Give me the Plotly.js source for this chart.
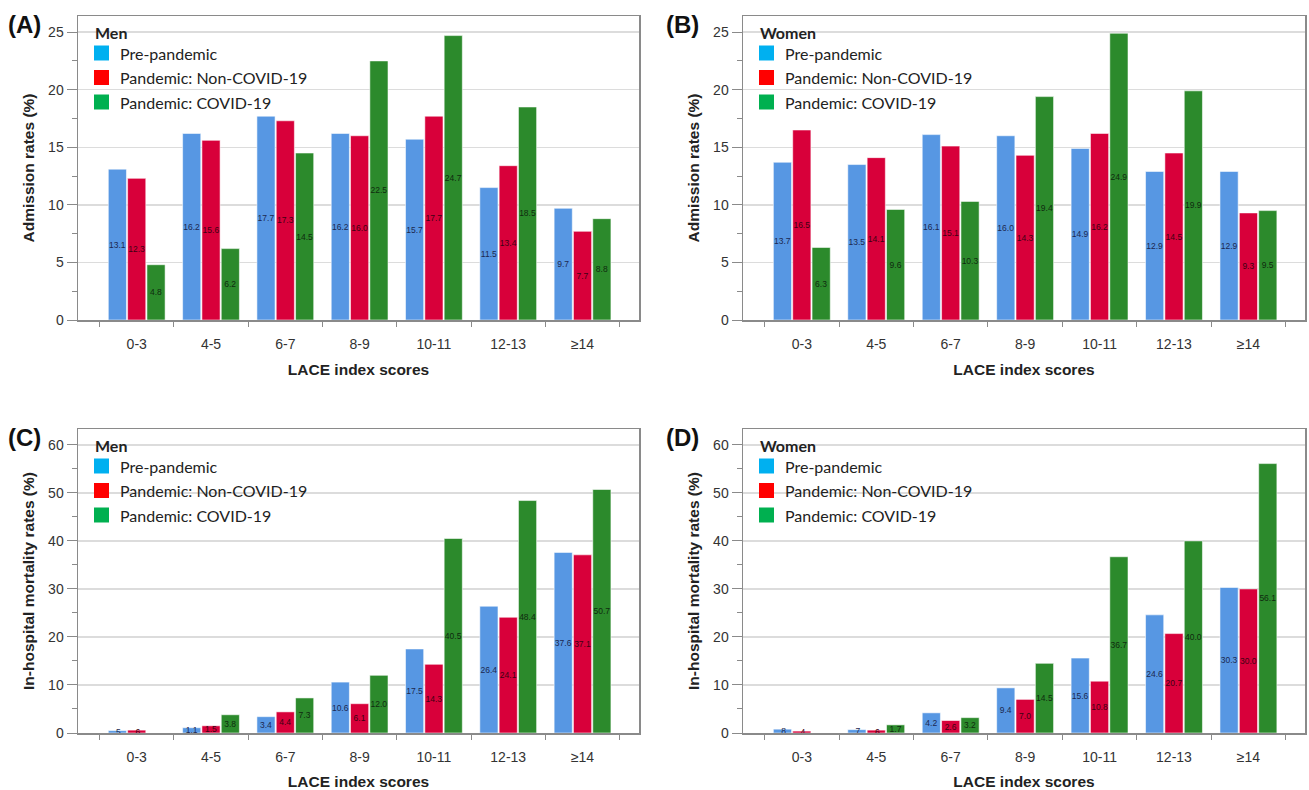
<!DOCTYPE html>
<html>
<head>
<meta charset="utf-8">
<script src="https://cdn.plot.ly/plotly-3.0.1.min.js"></script>
<style>
html,body{margin:0;padding:0;background:#fff;}
#chart{width:1309px;height:790px;}
</style>
</head>
<body>
<div id="chart"></div>
<script>
// ---- data ----
const categories = ['0-3', '4-5', '6-7', '8-9', '10-11', '12-13', '≥14'];
const seriesNames = ['Pre-pandemic', 'Pandemic: Non-COVID-19', 'Pandemic: COVID-19'];

// (A) Men – admission rates (%)
const menAdmPre   = [13.1, 16.2, 17.7, 16.2, 15.7, 11.5, 9.7];
const menAdmNon   = [12.3, 15.6, 17.3, 16.0, 17.7, 13.4, 7.7];
const menAdmCovid = [4.8, 6.2, 14.5, 22.5, 24.7, 18.5, 8.8];

// (B) Women – admission rates (%)
const womenAdmPre   = [13.7, 13.5, 16.1, 16.0, 14.9, 12.9, 12.9];
const womenAdmNon   = [16.5, 14.1, 15.1, 14.3, 16.2, 14.5, 9.3];
const womenAdmCovid = [6.3, 9.6, 10.3, 19.4, 24.9, 19.9, 9.5];

// (C) Men – in-hospital mortality rates (%)
const menMortPre   = [0.5, 1.1, 3.4, 10.6, 17.5, 26.4, 37.6];
const menMortNon   = [0.6, 1.5, 4.4, 6.1, 14.3, 24.1, 37.1];
const menMortCovid = [0.0, 3.8, 7.3, 12.0, 40.5, 48.4, 50.7];

// (D) Women – in-hospital mortality rates (%)
const womenMortPre   = [0.8, 0.7, 4.2, 9.4, 15.6, 24.6, 30.3];
const womenMortNon   = [0.4, 0.6, 2.6, 7.0, 10.8, 20.7, 30.0];
const womenMortCovid = [0.0, 1.7, 3.2, 14.5, 36.7, 40.0, 56.1];

// ---- styling ----
const barColors = ['#5797E3', '#D8003A', '#2C8A2C'];
const barTextColors = ['#1c2850', '#3d0012', '#0f2a0f'];
const legendColors = ['#00B0F0', '#FF0000', '#00B050'];

function fmt(v) {
  const s = v.toFixed(1);
  return v < 1 ? s.replace(/^0/, '') : s;
}

const panels = [
  {sfx: '',  group: 'Men',   series: [menAdmPre, menAdmNon, menAdmCovid], letter: '(A)'},
  {sfx: '2', group: 'Women', series: [womenAdmPre, womenAdmNon, womenAdmCovid], letter: '(B)'},
  {sfx: '3', group: 'Men',   series: [menMortPre, menMortNon, menMortCovid], letter: '(C)'},
  {sfx: '4', group: 'Women', series: [womenMortPre, womenMortNon, womenMortCovid], letter: '(D)'}
];

const traces = [];
panels.forEach(p => {
  p.series.forEach((vals, i) => {
    traces.push({
      type: 'bar',
      x: categories,
      y: vals,
      name: seriesNames[i],
      xaxis: 'x' + p.sfx,
      yaxis: 'y' + p.sfx,
      showlegend: false,
      marker: {color: barColors[i], line: {color: 'rgba(255,255,255,0.55)', width: 1}},
      text: vals.map(fmt),
      textposition: 'inside',
      insidetextanchor: 'middle',
      textangle: 0,
      constraintext: 'none',
      cliponaxis: false,
      textfont: {family: 'Liberation Sans Narrow, Liberation Sans, Arial', size: 8.5, color: barTextColors[i]},
      hoverinfo: 'x+y+name'
    });
  });
});

const W = 1309, H = 790;
const xDomA = [78 / W, 639 / W];
const xDomB = [743 / W, 1305 / W];
const yDomTop = [1 - 320 / H, 1 - 16 / H];
const yDomBot = [1 - 733 / H, 1 - 429 / H];

const tickFont = {family: 'Liberation Sans, Arial', size: 14, color: '#333'};
const titleFont = {family: 'Liberation Sans, Arial', size: 15.5, color: '#222', weight: 'bold'};

function xAxis(domain, anchor) {
  return {
    domain: domain, anchor: anchor, type: 'category',
    range: [-0.79, 6.76],
    showline: true, linecolor: '#8a8a8a', linewidth: 1.5, mirror: true,
    ticks: 'outside', tickson: 'boundaries', ticklen: 5, tickcolor: '#8a8a8a',
    tickfont: tickFont, ticklabelstandoff: 11,
    showgrid: false, zeroline: false, automargin: false,
    title: {text: '<b>LACE index scores</b>', font: titleFont, standoff: 13}
  };
}
function yAxis(domain, anchor, range, dtick, minorDtick, title) {
  return {
    domain: domain, anchor: anchor, range: range,
    tickmode: 'linear', tick0: 0, dtick: dtick,
    showline: true, linecolor: '#8a8a8a', linewidth: 1.5, mirror: true,
    ticks: 'outside', ticklen: 10, tickcolor: '#8a8a8a', tickwidth: 1,
    minor: {dtick: minorDtick, ticks: 'outside', ticklen: 5, tickcolor: '#8a8a8a', showgrid: false},
    tickfont: tickFont,
    showgrid: true, gridcolor: '#dcdcdc', gridwidth: 1.5,
    zeroline: false, automargin: false,
    title: {text: '<b>' + title + '</b>', font: titleFont, standoff: 9}
  };
}

const layout = {
  width: W, height: H,
  margin: {l: 0, r: 0, t: 0, b: 0},
  paper_bgcolor: '#fff', plot_bgcolor: '#fff',
  barmode: 'group', bargap: 0.22, bargroupgap: 0.06,
  uniformtext: {mode: 'show', minsize: 8.5},
  showlegend: false,
  xaxis:  xAxis(xDomA, 'y'),
  xaxis2: xAxis(xDomB, 'y2'),
  xaxis3: xAxis(xDomA, 'y3'),
  xaxis4: xAxis(xDomB, 'y4'),
  yaxis:  yAxis(yDomTop, 'x',  [0, 26.4], 5, 2.5, 'Admission rates (%)'),
  yaxis2: yAxis(yDomTop, 'x2', [0, 26.4], 5, 2.5, 'Admission rates (%)'),
  yaxis3: yAxis(yDomBot, 'x3', [0, 63.3], 10, 5, 'In-hospital mortality rates (%)'),
  yaxis4: yAxis(yDomBot, 'x4', [0, 63.3], 10, 5, 'In-hospital mortality rates (%)'),
  shapes: [],
  annotations: []
};

const legendFont = {family: 'Lato, Open Sans, sans-serif', size: 16, color: '#222'};
const letterPos = [[24, 25], [682, 25], [24, 438], [682, 438]];
panels.forEach((p, k) => {
  const xr = 'x' + p.sfx + ' domain', yr = 'y' + p.sfx + ' domain';
  layout.annotations.push({
    xref: xr, yref: yr, x: 0, y: 1, xshift: 15, yshift: -16,
    xanchor: 'left', yanchor: 'middle', showarrow: false,
    text: '<b>' + p.group + '</b>', font: legendFont
  });
  seriesNames.forEach((nm, i) => {
    const cy = 37 + i * 24.5;
    layout.shapes.push({
      type: 'rect', xref: xr, yref: yr, xsizemode: 'pixel', ysizemode: 'pixel',
      xanchor: 0, yanchor: 1, x0: 16, x1: 31, y0: -(cy - 7.5), y1: -(cy + 7.5),
      fillcolor: legendColors[i], line: {width: 0}
    });
    layout.annotations.push({
      xref: xr, yref: yr, x: 0, y: 1, xshift: 40, yshift: -cy,
      xanchor: 'left', yanchor: 'middle', showarrow: false,
      text: nm, font: legendFont
    });
  });
  layout.annotations.push({
    xref: 'paper', yref: 'paper', x: letterPos[k][0] / W, y: 1 - letterPos[k][1] / H,
    xanchor: 'center', yanchor: 'middle', showarrow: false,
    text: '<b>' + p.letter + '</b>',
    font: {family: 'Liberation Sans, Arial', size: 24, color: '#111'}
  });
});

Plotly.newPlot('chart', traces, layout, {displayModeBar: false, staticPlot: true});
</script>
</body>
</html>
